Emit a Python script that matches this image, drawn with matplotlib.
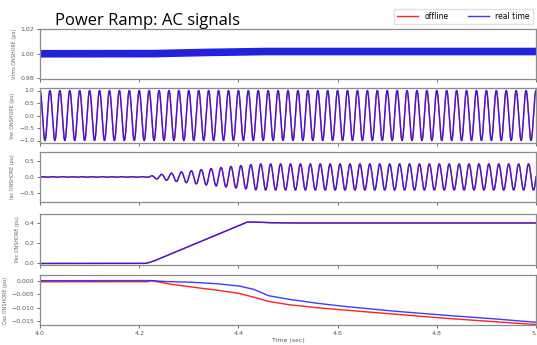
import numpy as np
import matplotlib
matplotlib.use('Agg')
import matplotlib.pyplot as plt

# time base and grid frequency
t_start, t_end = 4.0, 5.0
f_grid = 50.0

# Vrms (pu): centre of the rippled band
vrms_t = [4.0, 4.22, 4.30, 4.40, 4.45, 4.60, 5.0]
vrms_v = [1.000, 1.000, 1.0008, 1.0015, 1.0018, 1.0018, 1.0018]

# Vac (pu): steady amplitude
vac_amp_t = [4.0, 5.0]
vac_amp_v = [1.0, 1.0]

# Iac (pu): amplitude envelope
iac_amp_t = [4.0, 4.215, 4.23, 4.255, 4.32, 4.39, 4.44, 5.0]
iac_amp_v = [0.008, 0.008, 0.05, 0.10, 0.22, 0.33, 0.40, 0.40]

# Pac (pu)
pac_t = [4.0, 4.205, 4.215, 4.23, 4.417, 4.43, 4.46, 4.5, 5.0]
pac_v = [0.0, 0.0, 0.002, 0.025, 0.405, 0.407, 0.400, 0.397, 0.397]

# Qac (pu), offline and real time
qoff_t = [4.0, 4.215, 4.225, 4.26, 4.30, 4.35, 4.40, 4.43, 4.46, 4.50, 4.55, 4.60, 4.70, 4.80, 4.90, 4.97, 5.0]
qoff_v = [-0.0004, -0.0004, 0.0000, -0.0012, -0.0022, -0.0033, -0.0046, -0.0060, -0.0076,
          -0.0088, -0.0098, -0.0106, -0.0121, -0.0136, -0.0149, -0.0158, -0.0161]
qrt_t = [4.0, 4.22, 4.25, 4.30, 4.35, 4.40, 4.43, 4.46, 4.50, 4.55, 4.60, 4.70, 4.80, 4.90, 5.0]
qrt_v = [0.0, 0.0001, -0.0003, -0.0005, -0.0010, -0.0019, -0.0031, -0.0055, -0.0068,
         -0.0081, -0.0092, -0.0110, -0.0125, -0.0138, -0.0153]

ylabels = ['Vrms ONSHORE (pu)', 'Vac ONSHORE (pu)', 'Iac ONSHORE (pu)',
           'Pac ONSHORE (pu)', 'Qac ONSHORE (pu)']
ylims = [(0.98, 1.02), (-1.1, 1.1), (-0.75, 0.78), (-0.01, 0.485), (-0.0163, 0.0021)]
yticks = [[0.98, 1.00, 1.02], [-1.0, -0.5, 0.0, 0.5, 1.0], [-0.5, 0.0, 0.5],
          [0.0, 0.2, 0.4], [0.000, -0.005, -0.010, -0.015]]
yfmt = ['%.2f', '%.1f', '%.1f', '%.1f', '%.3f']
xticks = [4.0, 4.2, 4.4, 4.6, 4.8, 5.0]

t = np.linspace(t_start, t_end, 8001)
phase = 2 * np.pi * f_grid * t

vrms = np.interp(t, vrms_t, vrms_v)
vac = np.interp(t, vac_amp_t, vac_amp_v) * np.cos(phase)
iac = np.interp(t, iac_amp_t, iac_amp_v) * np.sin(phase)
pac = np.interp(t, pac_t, pac_v)
q_off = np.interp(t, qoff_t, qoff_v)
q_rt = np.interp(t, qrt_t, qrt_v)

red = '#ff2020'
blue = '#1a1aff'

W, H = 537, 345
fig = plt.figure(figsize=(W / 100, H / 100), dpi=100)

# panel pixel extents (top, bottom)
boxes = [(29, 78.5), (88, 143), (151.5, 201.5), (214, 264.5), (275, 325)]
left, right = 40, 536
axes = []
for top, bot in boxes:
    ax = fig.add_axes([left / W, 1 - bot / H, (right - left) / W, (bot - top) / H])
    axes.append(ax)

series = [(vrms, vrms), (vac, vac), (iac, iac), (pac, pac), (q_off, q_rt)]
for i, ax in enumerate(axes):
    off, rt = series[i]
    if i == 0:
        # offline sits under the real-time band, thinner so it stays hidden
        ax.plot(t, off, color=red, lw=3.5)
        ax.plot(t, rt, color='#2222dd', lw=5.5)
    else:
        l1, = ax.plot(t, off, color=red, lw=1.0, label='offline')
        l2, = ax.plot(t, rt, color=blue, lw=1.0, alpha=0.85, label='real time')
    ax.set_xlim(t_start, t_end)
    ax.set_ylim(*ylims[i])
    ax.set_yticks(yticks[i])
    ax.set_yticklabels([(yfmt[i] % v).replace('-', '\u2212') for v in yticks[i]])
    ax.set_xticks(xticks)
    ax.tick_params(labelsize=4.5, colors='0.35', length=2.5, width=0.6, pad=1.5)
    ax.set_ylabel(ylabels[i], fontsize=3.5, color='0.4', labelpad=3)
    for s in ax.spines.values():
        s.set_color('0.55')
        s.set_linewidth(0.9)
    if i < 4:
        ax.set_xticklabels([])

axes[-1].set_xticklabels(['%.1f' % v for v in xticks])
axes[-1].set_xlabel('Time (sec)', fontsize=4.5, color='0.35', labelpad=1.5)

fig.legend([l1, l2], ['offline', 'real time'], loc='upper right',
           bbox_to_anchor=(0.999, 0.985), ncol=2, fontsize=5.5,
           frameon=True, edgecolor='0.85', fancybox=False,
           handlelength=2.8, columnspacing=2.5, borderpad=0.4)

fig.text(55 / W, 1 - 21 / H, 'Power Ramp: AC signals', fontsize=12,
         family='Open Sans', va='center', ha='left')

fig.savefig('out.png', dpi=100)
